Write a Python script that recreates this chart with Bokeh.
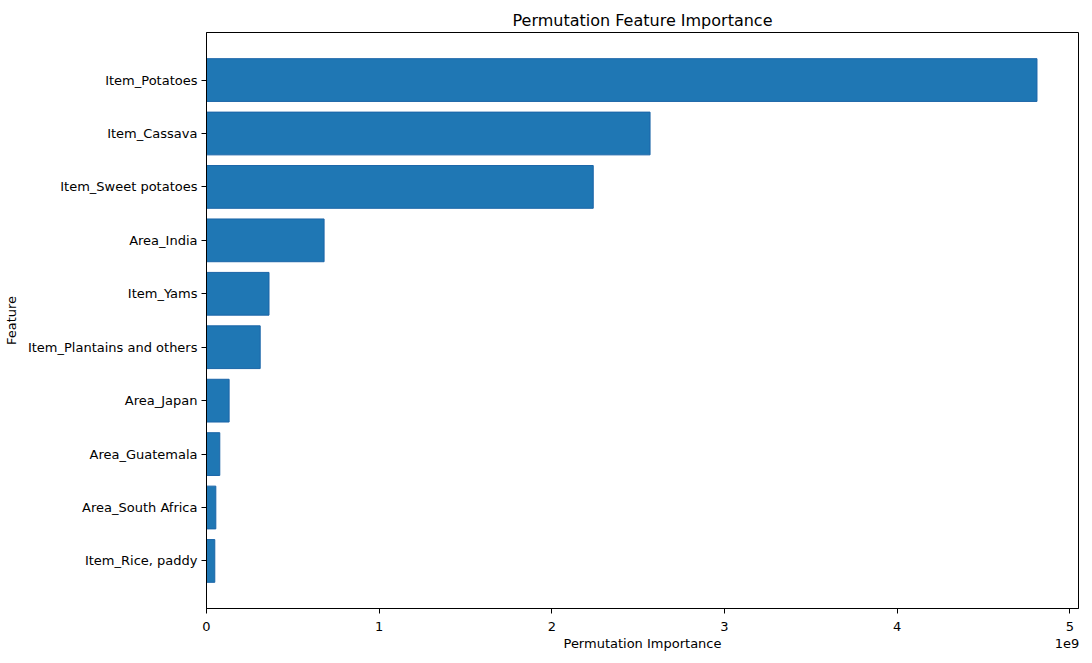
from bokeh.plotting import figure
from bokeh.models import (ColumnDataSource, Range1d, FixedTicker, CustomJSTickFormatter,
                          LinearAxis)
from bokeh.embed import file_html
from bokeh.resources import INLINE

# features from bottom to top, as they are drawn
features = ["Item_Rice, paddy", "Area_South Africa", "Area_Guatemala", "Area_Japan",
            "Item_Plantains and others", "Item_Yams", "Area_India",
            "Item_Sweet potatoes", "Item_Cassava", "Item_Potatoes"]
importance = [0.048e9, 0.054e9, 0.077e9, 0.131e9, 0.311e9, 0.362e9, 0.681e9,
              2.240e9, 2.569e9, 4.810e9]
x_ticks = [0, 1e9, 2e9, 3e9, 4e9, 5e9]
x_title = "Permutation Importance"
x_offset_text = "1e9"

FONT = "DejaVu Sans"


def style_axis(ax):
    ax.axis_line_color = "black"
    ax.major_tick_in = 0
    ax.major_tick_out = 5
    ax.minor_tick_in = 0
    ax.minor_tick_out = 0
    ax.major_label_text_font = FONT
    ax.major_label_text_font_size = "13px"
    ax.major_label_text_color = "black"
    ax.axis_label_text_font = FONT
    ax.axis_label_text_font_size = "13px"
    ax.axis_label_text_font_style = "normal"
    ax.axis_label_text_color = "black"


def main():
    source = ColumnDataSource(data=dict(pos=list(range(len(features))), imp=importance))

    xmax = max(importance) * 1.05
    nf = len(features)
    pad = 0.05 * (nf - 1 + 0.8)

    p = figure(frame_width=872, frame_height=576, output_backend="svg", toolbar_location=None,
               x_range=Range1d(0, xmax), y_range=Range1d(-0.4 - pad, nf - 1 + 0.4 + pad),
               title="Permutation Feature Importance",
               min_border_left=197, min_border_top=32, min_border_bottom=40, min_border_right=7)

    p.hbar(y="pos", right="imp", left=0, height=0.8, source=source,
           fill_color="#1f77b4", line_color="#1a65a8", line_width=1)

    p.title.align = "center"
    p.title.text_font = FONT
    p.title.text_font_size = "16px"
    p.title.text_font_style = "normal"
    p.title.text_color = "black"
    p.title.standoff = 6

    p.xgrid.visible = False
    p.ygrid.visible = False
    p.outline_line_color = "black"
    p.outline_line_width = 1
    p.background_fill_color = "white"
    p.border_fill_color = "white"

    style_axis(p.xaxis[0])
    p.xaxis.ticker = FixedTicker(ticks=x_ticks)
    p.xaxis.formatter = CustomJSTickFormatter(code="return (tick / 1e9).toFixed(0);")
    p.xaxis.major_label_standoff = 8

    style_axis(p.yaxis[0])
    p.yaxis.ticker = FixedTicker(ticks=list(range(nf)))
    p.yaxis.major_label_overrides = {i: f for i, f in enumerate(features)}
    p.yaxis.axis_label = "Feature"
    p.yaxis.major_label_standoff = 4
    p.yaxis.axis_label_standoff = 6

    # second row under the x axis: axis title in the middle, offset text "1e9" at the right
    mid = xmax / 2
    right = xmax - 11.5 / 872 * xmax
    label_axis = LinearAxis(ticker=FixedTicker(ticks=[mid, right]),
                            formatter=CustomJSTickFormatter(
                                args=dict(split=(mid + right) / 2, a=x_title, b=x_offset_text),
                                code="return tick < split ? a : b;"))
    style_axis(label_axis)
    label_axis.axis_line_color = None
    label_axis.major_tick_out = 0
    label_axis.major_label_standoff = 2
    p.add_layout(label_axis, "below")

    open("out.html", "w").write(file_html(p, INLINE))


if __name__ == "__main__":
    main()
